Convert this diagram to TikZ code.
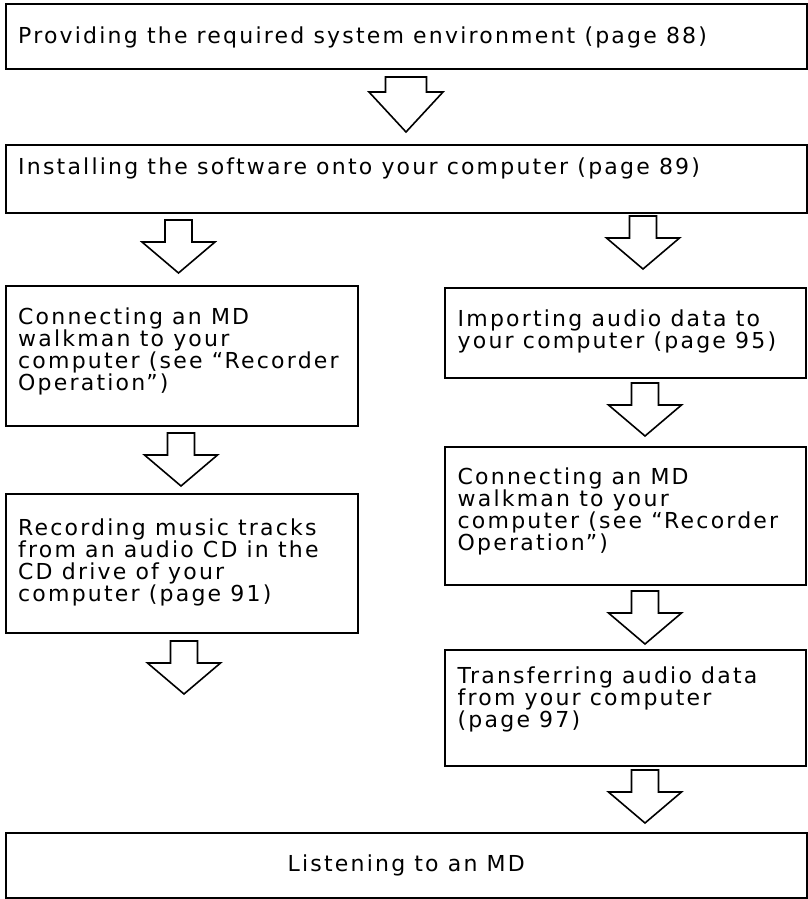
\documentclass[tikz,border=0pt]{standalone}
\usepackage{fontspec}
\newfontfamily\diagfont[LetterSpace=10]{DejaVu Sans}
\newcommand\darrow[6]{%
  \draw[barrow] (#1-#3,#2) -- (#1+#3,#2) -- (#1+#3,#2+#4) -- (#1+#5,#2+#4)
    -- (#1,#2+#4+#6) -- (#1-#5,#2+#4) -- (#1-#3,#2+#4) -- cycle;}
\begin{document}
\begin{tikzpicture}[x=1pt,y=-1pt,
  box/.style={draw, line width=2pt, anchor=north west, inner sep=0pt},
  txt/.style={font=\diagfont\fontsize{22}{22}\selectfont, align=left, anchor=base west, inner sep=0pt},
  ctxt/.style={font=\diagfont\fontsize{22}{22}\selectfont, anchor=base, inner sep=0pt},
  barrow/.style={draw, line width=1.6pt, line join=miter, fill=white}]
\useasboundingbox (0,0) rectangle (808,899);
% boxes
\node[box, minimum width=801.5pt, minimum height=65pt] (b1) at (4.5,3) {};
\node[box, minimum width=801.5pt, minimum height=68pt] (b2) at (4.5,144) {};
\node[box, minimum width=352.5pt, minimum height=140pt] (l3) at (4.5,285) {};
\node[box, minimum width=352.5pt, minimum height=139pt] (l4) at (4.5,493) {};
\node[box, minimum width=361pt, minimum height=90pt] (r3) at (444,287) {};
\node[box, minimum width=361pt, minimum height=138pt] (r4) at (444,446) {};
\node[box, minimum width=361pt, minimum height=116pt] (r5) at (444,649) {};
\node[box, minimum width=801.5pt, minimum height=65pt] (b6) at (4.5,832) {};
% texts (base anchor = baseline of the last line)
\node[txt] (t1) at ([shift={(13.5,41)}]b1.north west) {Providing the required system environment (page 88)};
\node[txt] (t2) at ([shift={(13.5,30)}]b2.north west) {Installing the software onto your computer (page 89)};
\node[txt] (tl3) at ([shift={(13.5,105)}]l3.north west) {Connecting an MD\\walkman to your\\computer (see “Recorder\\Operation”)};
\node[txt] (tl4) at ([shift={(13.5,108)}]l4.north west) {Recording music tracks\\from an audio CD in the\\CD drive of your\\computer (page 91)};
\node[txt] (tr3) at ([shift={(13.5,61)}]r3.north west) {Importing audio data to\\your computer (page 95)};
\node[txt] (tr4) at ([shift={(13.5,104)}]r4.north west) {Connecting an MD\\walkman to your\\computer (see “Recorder\\Operation”)};
\node[txt] (tr5) at ([shift={(13.5,78)}]r5.north west) {Transferring audio data\\from your computer\\(page 97)};
\node[ctxt] (t6) at ([shift={(0,39)}]b6.north) {Listening to an MD};
% block arrows
\darrow{406}{77}{20.5}{15}{37}{40}
\darrow{178.5}{220}{13.5}{22}{36.5}{31}
\darrow{643}{216}{13.5}{22}{36.5}{31}
\darrow{181}{433}{13.5}{22}{36.5}{31}
\darrow{645}{383}{13.5}{22}{36.5}{31}
\darrow{184}{641}{13.5}{22}{36.5}{31}
\darrow{645}{591}{13.5}{22}{36.5}{31}
\darrow{645}{770}{13.5}{22}{36.5}{31}
\end{tikzpicture}
\end{document}
